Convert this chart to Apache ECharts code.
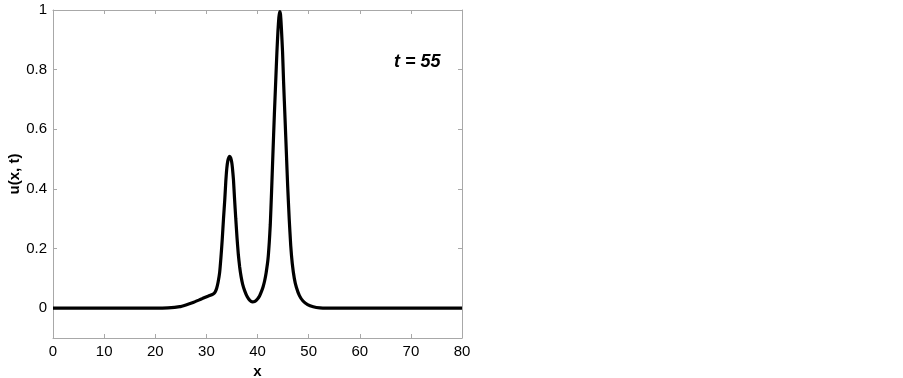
<!DOCTYPE html>
<html>
<head>
<meta charset="utf-8">
<script src="https://cdn.jsdelivr.net/npm/echarts@6/dist/echarts.min.js"></script>
<style>
html,body{margin:0;padding:0;background:#fff;}
#chart{width:903px;height:378px;}
</style>
</head>
<body>
<div id="chart"></div>
<script>
// Data
var xValues = [0, 10, 20, 22.5, 24.8, 26, 27.4, 28.5, 29.3, 30.3, 31.3, 31.7, 32.0, 32.3, 32.6, 32.85, 33.1, 33.35, 33.6, 33.8, 34.0, 34.2, 34.4, 34.56, 34.75, 34.95, 35.1, 35.3, 35.5, 35.75, 36.0, 36.25, 36.5, 36.8, 37.1, 37.5, 38.0, 38.5, 39.0, 39.5, 40.0, 40.4, 40.8, 41.1, 41.4, 41.7, 42.05, 42.3, 42.5, 42.75, 43.0, 43.3, 43.56, 43.8, 44.0, 44.18, 44.34, 44.5, 44.67, 44.9, 45.1, 45.4, 45.65, 45.9, 46.2, 46.5, 46.8, 47.2, 47.6, 48.2, 48.9, 49.8, 50.9, 52.2, 53.5, 60, 70, 80];
var uValues = [0, 0, 0, 0.001, 0.005, 0.011, 0.019, 0.027, 0.033, 0.040, 0.047, 0.054, 0.066, 0.088, 0.12, 0.17, 0.23, 0.30, 0.364, 0.425, 0.47, 0.495, 0.506, 0.509, 0.504, 0.49, 0.47, 0.43, 0.37, 0.30, 0.235, 0.18, 0.14, 0.105, 0.08, 0.058, 0.038, 0.026, 0.021, 0.023, 0.031, 0.041, 0.057, 0.072, 0.092, 0.12, 0.164, 0.22, 0.28, 0.39, 0.51, 0.65, 0.76, 0.86, 0.93, 0.975, 0.995, 0.985, 0.94, 0.86, 0.76, 0.63, 0.52, 0.41, 0.30, 0.21, 0.15, 0.10, 0.07, 0.042, 0.024, 0.012, 0.005, 0.001, 0, 0, 0, 0];
var xTicks = [0, 10, 20, 30, 40, 50, 60, 70, 80];
var yTicks = [0, 0.2, 0.4, 0.6, 0.8, 1];
var annotation = 't = 55';

var points = xValues.map(function (x, i) { return [x, uValues[i]]; });

var axisGray = '#a8a8a8';
var font = 'Liberation Sans, Arial, sans-serif';

var chart = echarts.init(document.getElementById('chart'), null, {renderer: 'canvas'});
chart.setOption({
  animation: false,
  backgroundColor: '#ffffff',
  grid: {left: 53, right: 441, top: 10, bottom: 40, containLabel: false, outerBoundsMode: 'none'},
  title: {
    text: annotation,
    left: 389, top: 48,
    textStyle: {fontFamily: font, fontSize: 18, fontWeight: 'bold', fontStyle: 'italic', color: '#000'}
  },
  xAxis: [{
    type: 'value', min: 0, max: 80, interval: 10,
    name: 'x', nameLocation: 'middle', nameGap: 17,
    nameTextStyle: {fontFamily: font, fontSize: 15, fontWeight: 'bold', color: '#000'},
    axisLine: {show: true, onZero: false, lineStyle: {color: axisGray, width: 1}},
    axisTick: {show: true, inside: true, length: 4, lineStyle: {color: axisGray}},
    axisLabel: {fontFamily: font, fontSize: 15, color: '#000', margin: 6},
    splitLine: {show: false}
  }, {
    type: 'value', min: 0, max: 80, interval: 10, position: 'top',
    axisLine: {show: true, onZero: false, lineStyle: {color: axisGray, width: 1}},
    axisTick: {show: true, inside: true, length: 4, lineStyle: {color: axisGray}},
    axisLabel: {show: false},
    splitLine: {show: false}
  }],
  yAxis: [{
    type: 'value', min: -0.1, max: 1,
    name: 'u(x, t)', nameLocation: 'middle', nameGap: 26, nameRotate: 90,
    nameTextStyle: {fontFamily: font, fontSize: 15, fontWeight: 'bold', color: '#000'},
    axisLine: {show: true, onZero: false, lineStyle: {color: axisGray, width: 1}},
    axisTick: {show: true, inside: true, length: 4, customValues: yTicks, lineStyle: {color: axisGray}},
    axisLabel: {fontFamily: font, fontSize: 15, color: '#000', margin: 6, customValues: yTicks,
      formatter: function (v) { return String(Math.round(v * 10) / 10); }},
    splitLine: {show: false}
  }, {
    type: 'value', min: -0.1, max: 1, position: 'right',
    axisLine: {show: true, onZero: false, lineStyle: {color: axisGray, width: 1}},
    axisTick: {show: true, inside: true, length: 4, customValues: yTicks, lineStyle: {color: axisGray}},
    axisLabel: {show: false},
    splitLine: {show: false}
  }],
  series: [{
    type: 'line',
    data: points,
    xAxisIndex: 0, yAxisIndex: 0,
    showSymbol: false,
    smooth: 0.15,
    clip: false,
    lineStyle: {color: '#000', width: 3.2}
  }]
});
</script>
</body>
</html>
